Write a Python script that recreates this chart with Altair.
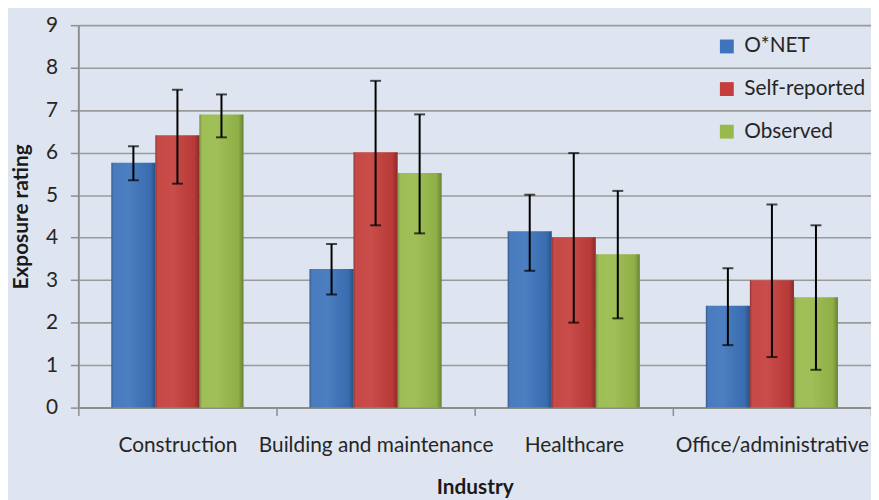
import altair as alt
import pandas as pd

industries = ["Construction", "Building and maintenance", "Healthcare", "Office/administrative"]
sources = ["O*NET", "Self-reported", "Observed"]

onet = [5.76, 3.26, 4.15, 2.40]
onet_lo = [5.35, 2.66, 3.22, 1.47]
onet_hi = [6.15, 3.85, 5.01, 3.28]

self_rep = [6.41, 6.01, 4.01, 3.00]
self_lo = [5.27, 4.29, 2.00, 1.19]
self_hi = [7.48, 7.69, 5.99, 4.78]

observed = [6.90, 5.52, 3.61, 2.60]
obs_lo = [6.36, 4.10, 2.10, 0.89]
obs_hi = [7.37, 6.90, 5.10, 4.29]

colors = ["#3D74BB", "#C43E3B", "#98BA4B"]
y_ticks = [0, 1, 2, 3, 4, 5, 6, 7, 8, 9]

FONT = "Lato"

rows = []
for s, vals, los, his in [
    (sources[0], onet, onet_lo, onet_hi),
    (sources[1], self_rep, self_lo, self_hi),
    (sources[2], observed, obs_lo, obs_hi),
]:
    for ind, v, lo, hi in zip(industries, vals, los, his):
        rows.append({"industry": ind, "source": s, "value": v, "lo": lo, "hi": hi})
df = pd.DataFrame(rows)

x_enc = alt.X("industry:N", sort=industries, title="Industry",
              scale=alt.Scale(paddingInner=0, paddingOuter=0))
xo_enc = alt.XOffset("source:N", sort=sources,
                     scale=alt.Scale(paddingInner=0, paddingOuter=0.75))
yscale = alt.Scale(domain=[0, 9])
yaxis = alt.Axis(values=y_ticks)

base = alt.Chart(df)

bars = base.mark_bar(strokeWidth=0).encode(
    x=x_enc,
    xOffset=xo_enc,
    y=alt.Y("value:Q", scale=yscale, axis=yaxis, title="Exposure rating"),
    color=alt.Color(
        "source:N", sort=sources,
        scale=alt.Scale(domain=sources, range=colors),
        legend=alt.Legend(title=None, orient="none", legendX=644, legendY=11,
                          symbolType="square", symbolSize=196, symbolStrokeWidth=0,
                          labelFont=FONT, labelFontSize=21, labelColor="#262626",
                          rowPadding=21, labelOffset=7),
    ),
)

shade = base.mark_bar(
    strokeWidth=0,
    fill=alt.Gradient(
        gradient="linear", x1=0, x2=1, y1=0, y2=0,
        stops=[
            alt.GradientStop(offset=0, color="rgba(0,0,0,0.28)"),
            alt.GradientStop(offset=0.08, color="rgba(255,255,255,0.06)"),
            alt.GradientStop(offset=0.4, color="rgba(255,255,255,0.08)"),
            alt.GradientStop(offset=0.88, color="rgba(0,0,0,0.06)"),
            alt.GradientStop(offset=1, color="rgba(0,0,0,0.3)"),
        ],
    ),
).encode(
    x=x_enc,
    xOffset=xo_enc,
    y=alt.Y("value:Q", scale=yscale, axis=yaxis, title="Exposure rating"),
)

rules = base.mark_rule(color="black", strokeWidth=2).encode(
    x=x_enc,
    xOffset=xo_enc,
    y=alt.Y("lo:Q", scale=yscale, axis=yaxis, title="Exposure rating"),
    y2="hi:Q",
)

ticks_lo = base.mark_tick(color="black", thickness=2, size=11).encode(
    x=x_enc,
    xOffset=xo_enc,
    y=alt.Y("lo:Q", scale=yscale, axis=yaxis, title="Exposure rating"),
)
ticks_hi = base.mark_tick(color="black", thickness=2, size=11).encode(
    x=x_enc,
    xOffset=xo_enc,
    y=alt.Y("hi:Q", scale=yscale, axis=yaxis, title="Exposure rating"),
)

chart = alt.layer(bars, shade, rules, ticks_lo, ticks_hi).properties(
    width=800, height=386,
    autosize=alt.AutoSizeParams(type="none"),
    padding={"left": 71, "top": 15, "right": 0, "bottom": 100},
).configure(
    background="#DEE5F0",
).configure_view(
    stroke=None,
).configure_axis(
    domainColor="#8E8E8E", domainWidth=2,
    tickColor="#8E8E8E", tickWidth=1.5, tickSize=8,
    labelFont=FONT, labelFontSize=21, labelColor="#262626", labelLimit=0,
    titleFont=FONT, titleFontSize=21, titleFontWeight="bold", titleColor="#1a1a1a",
    gridColor="#9A9A9A", gridWidth=1.6,
).configure_axisX(
    grid=False, tickBand="extent", labelAngle=0, labelPadding=19, titlePadding=22,
).configure_axisY(
    grid=True, labelPadding=13, titlePadding=14,
)

chart.save("out.html", embed_options={"renderer": "svg", "actions": False})
